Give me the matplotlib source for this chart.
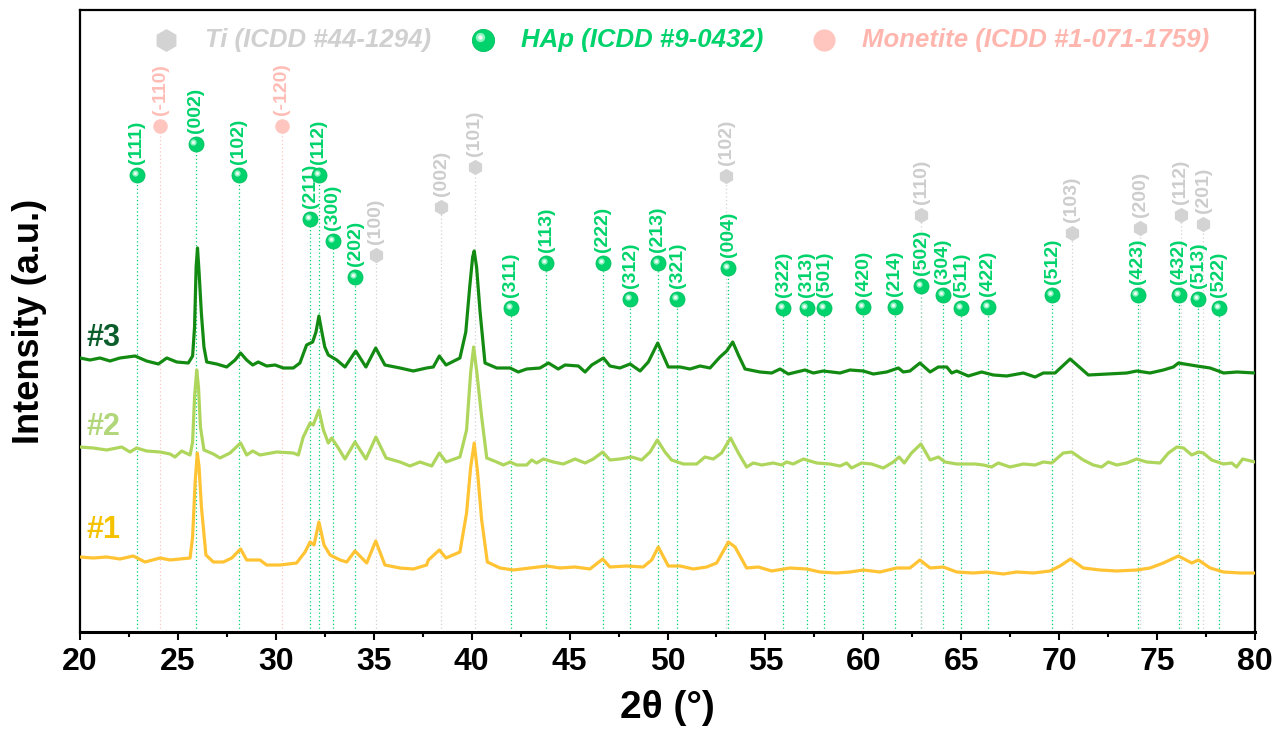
import numpy as np
import matplotlib
matplotlib.use("Agg")
import matplotlib.pyplot as plt
from matplotlib.transforms import offset_copy

plt.rcParams["font.family"] = ["Liberation Sans", "DejaVu Sans"]
plt.rcParams["font.weight"] = "bold"

# ── XRD patterns (2θ, intensity a.u., already offset) ─────────────────────
tt3 = [20.0, 20.51, 21.02, 21.53, 22.04, 22.81, 23.4, 24.0, 24.43, 24.94, 25.53, 25.75,
       25.85, 25.93, 26.0, 26.08, 26.2, 26.33, 26.47, 26.98, 27.49, 27.92, 28.2, 28.51,
       28.82, 29.1, 29.53, 29.96, 30.38, 30.89, 31.23, 31.57, 31.88, 32.05, 32.2, 32.35,
       32.5, 32.68, 33.11, 33.53, 34.08, 34.6, 35.1, 35.57, 36.34, 37.02, 37.7, 38.04,
       38.35, 38.69, 39.4, 39.7, 39.9, 40.05, 40.13, 40.25, 40.43, 40.68, 41.28, 41.96,
       42.38, 42.81, 43.49, 43.92, 44.42, 44.77, 45.45, 45.79, 46.13, 46.73, 47.06, 47.57,
       48.09, 48.6, 49.02, 49.5, 50.04, 50.64, 51.15, 51.66, 52.17, 52.68, 53.02, 53.33,
       53.62, 53.96, 54.72, 55.32, 55.75, 56.17, 57.02, 57.45, 57.95, 58.81, 59.32, 60.0,
       60.51, 61.19, 61.79, 62.04, 62.38, 62.89, 63.41, 63.83, 64.26, 64.51, 64.77, 65.36,
       66.04, 66.64, 67.32, 68.17, 68.77, 69.19, 69.79, 70.56, 71.49, 72.43, 73.45, 73.96,
       74.64, 75.32, 75.83, 76.09, 77.03, 77.71, 78.4, 79.08, 80.0]
i3 = [274, 272, 274, 271, 274, 276, 271, 268, 274, 270, 269, 276,
      305, 365, 384, 360, 318, 285, 270, 268, 265, 272, 279, 272,
      267, 270, 266, 267, 264, 264, 269, 287, 290, 300, 316, 300,
      285, 277, 272, 265, 281, 265, 284, 267, 264, 261, 264, 265,
      276, 267, 274, 300, 345, 375, 381, 365, 320, 269, 264, 264,
      260, 263, 264, 269, 263, 267, 266, 260, 267, 274, 266, 264,
      268, 261, 270, 289, 265, 265, 263, 266, 264, 275, 281, 290,
      277, 263, 260, 259, 263, 258, 262, 259, 261, 259, 262, 261,
      258, 260, 264, 260, 261, 269, 260, 265, 265, 259, 261, 256,
      260, 257, 256, 259, 255, 259, 259, 273, 257, 258, 259, 261,
      259, 262, 265, 269, 266, 264, 259, 260, 259]

tt2 = [20.0, 20.68, 21.36, 22.13, 22.55, 22.89, 23.4, 24.09, 24.6, 24.85, 25.19, 25.62,
       25.75, 25.85, 25.96, 26.05, 26.15, 26.33, 26.81, 27.15, 27.66, 28.2, 28.51, 28.82,
       29.19, 30.04, 30.89, 31.15, 31.4, 31.75, 31.91, 32.2, 32.43, 32.68, 32.85, 33.19,
       33.53, 34.04, 34.6, 35.11, 35.63, 36.34, 36.85, 37.36, 37.96, 38.35, 38.69, 39.4,
       39.74, 39.95, 40.1, 40.25, 40.51, 40.77, 41.28, 41.62, 41.96, 42.3, 42.81, 43.06,
       43.32, 43.66, 44.17, 44.68, 45.28, 45.79, 46.21, 46.69, 47.06, 47.57, 48.17, 48.68,
       49.11, 49.48, 49.87, 50.21, 50.81, 51.49, 51.91, 52.34, 52.76, 53.22, 53.62, 54.04,
       54.38, 54.81, 55.4, 55.83, 56.08, 56.42, 56.94, 57.62, 58.3, 58.81, 59.15, 59.4,
       59.91, 60.42, 61.02, 61.53, 61.83, 62.09, 62.46, 62.94, 63.41, 63.83, 64.17, 64.77,
       65.28, 65.7, 66.13, 66.55, 66.89, 67.49, 68.17, 68.77, 69.19, 69.62, 70.21, 70.64,
       71.23, 71.74, 72.17, 72.51, 72.94, 73.45, 73.96, 74.47, 75.15, 75.58, 76.01, 76.35,
       76.77, 77.11, 77.36, 77.79, 78.38, 78.81, 79.06, 79.37, 80.0]
i2 = [185, 184, 182, 185, 180, 184, 181, 180, 178, 175, 181, 177,
      190, 235, 262, 245, 205, 182, 178, 174, 179, 189, 177, 181,
      177, 180, 179, 177, 195, 209, 207, 222, 202, 189, 194, 184,
      173, 190, 173, 195, 174, 170, 166, 170, 166, 179, 170, 175,
      202, 260, 285, 262, 215, 174, 170, 167, 170, 167, 167, 172,
      169, 173, 170, 168, 173, 169, 173, 180, 172, 173, 175, 172,
      180, 192, 180, 172, 168, 168, 175, 173, 179, 194, 179, 165,
      169, 167, 169, 167, 170, 168, 173, 169, 168, 166, 169, 164,
      169, 168, 164, 170, 175, 169, 179, 188, 172, 175, 170, 168,
      168, 168, 167, 165, 169, 165, 168, 167, 170, 169, 179, 180,
      172, 167, 165, 170, 167, 169, 173, 170, 169, 179, 185, 184,
      177, 180, 179, 172, 168, 169, 165, 173, 170]

tt1 = [20.0, 20.68, 21.36, 22.04, 22.72, 23.32, 24.09, 24.6, 25.11, 25.62, 25.75, 25.88,
       25.99, 26.08, 26.2, 26.43, 26.81, 27.32, 27.75, 28.2, 28.51, 29.19, 29.53, 30.21,
       31.06, 31.49, 31.75, 31.95, 32.2, 32.46, 32.77, 33.28, 33.62, 34.04, 34.64, 35.1,
       35.57, 36.34, 37.02, 37.7, 37.79, 38.35, 38.69, 39.4, 39.74, 39.95, 40.13, 40.3,
       40.51, 40.8, 41.45, 42.13, 42.98, 43.83, 44.51, 45.28, 46.04, 46.69, 47.06, 47.91,
       48.76, 49.19, 49.53, 50.04, 50.64, 51.32, 52.0, 52.51, 53.11, 53.45, 54.04, 54.64,
       55.32, 56.26, 57.11, 57.79, 58.64, 59.32, 60.0, 60.85, 61.7, 62.38, 62.89, 63.41,
       64.08, 64.77, 65.62, 66.3, 67.15, 67.83, 68.68, 69.53, 70.04, 70.58, 71.23, 72.09,
       72.94, 73.96, 74.64, 75.32, 76.09, 76.77, 77.11, 77.71, 78.4, 79.25, 80.0]
i1 = [75, 74, 75, 73, 76, 70, 74, 72, 73, 74, 95, 150,
      179, 165, 125, 77, 70, 70, 74, 83, 72, 72, 67, 67,
      69, 80, 90, 87, 110, 87, 77, 72, 70, 81, 69, 91,
      67, 64, 63, 67, 72, 82, 74, 80, 119, 165, 189, 160,
      112, 70, 64, 62, 64, 66, 64, 65, 63, 73, 65, 66,
      65, 72, 85, 66, 66, 63, 65, 69, 90, 85, 64, 65,
      61, 64, 63, 60, 59, 60, 62, 60, 64, 64, 72, 64,
      65, 60, 59, 60, 58, 60, 59, 61, 66, 73, 64, 62,
      61, 62, 64, 69, 76, 69, 72, 64, 60, 59, 59]

# ── Reference reflections ──────────────────────────────────────────────────
hap_pos = [22.9, 25.9, 28.1, 31.75, 32.2, 32.9, 34.05, 42.0, 43.8, 46.7, 48.1, 49.5,
           50.5, 53.1, 55.9, 57.1, 58.0, 60.0, 61.6, 62.95, 64.05, 65.0, 66.35, 69.65,
           74.0, 76.1, 77.1, 78.15]
hap_top = [457, 488, 457, 413, 457, 391, 355, 324, 369, 369, 333, 369,
           333, 364, 324, 324, 324, 325, 325, 346, 337, 324, 325, 337,
           337, 337, 333, 324]
hap_hkl = ["(111)", "(002)", "(102)", "(211)", "(112)", "(300)", "(202)", "(311)", "(113)",
           "(222)", "(312)", "(213)", "(321)", "(004)", "(322)", "(313)", "(501)", "(420)",
           "(214)", "(502)", "(304)", "(511)", "(422)", "(512)", "(423)", "(432)", "(513)",
           "(522)"]

ti_pos = [35.1, 38.45, 40.15, 53.0, 62.95, 70.65, 74.15, 76.2, 77.35]
ti_top = [377, 425, 465, 456, 417, 399, 404, 417, 408]
ti_hkl = ["(100)", "(002)", "(101)", "(102)", "(110)", "(103)", "(200)", "(112)", "(201)"]

mon_pos = [24.1, 30.3]
mon_top = [506, 506]
mon_hkl = ["(-110)", "(-120)"]

C3, C2, C1 = "#138B13", "#AED65C", "#FFC333"
T3, T2, T1 = "#0B5E2C", "#B2D77A", "#F5C200"
HAP = "#00D36B"
TI = "#D3D3D3"
MON = "#FFC6C0"

fig = plt.figure(figsize=(12.8, 7.34), dpi=100)
ax = fig.add_axes([80 / 1280, 102 / 734, 1175 / 1280, 622 / 734])

# drop lines first so the patterns sit on top
ax.vlines(hap_pos, 0, hap_top, colors=HAP, linestyles=(0, (1, 2)), linewidth=0.9, zorder=1)
ax.vlines(ti_pos, 0, ti_top, colors=TI, linestyles=(0, (1, 2)), linewidth=0.9, zorder=1)
ax.vlines(mon_pos, 0, mon_top, colors=MON, linestyles=(0, (1, 2)), linewidth=0.9, zorder=1)

ax.plot(tt3, i3, color=C3, lw=2.3, zorder=3)
ax.plot(tt2, i2, color=C2, lw=2.3, zorder=3)
ax.plot(tt1, i1, color=C1, lw=2.3, zorder=3)

ax.text(20.35, 294, "#3", color=T3, fontsize=22, fontweight="bold", va="center")
ax.text(20.35, 205, "#2", color=T2, fontsize=22, fontweight="bold", va="center")
ax.text(20.35, 102, "#1", color=T1, fontsize=22, fontweight="bold", va="center")


def sphere(xs, ys, ms, transform):
    # green ball with a small glossy highlight up-left
    ax.plot(xs, ys, "o", ms=ms, color=HAP, mec="#00C060", mew=0.6,
            transform=transform, zorder=5, clip_on=False)
    hl = offset_copy(transform, fig=fig, x=-ms * 0.14, y=ms * 0.14, units="points")
    ax.plot(xs, ys, "o", ms=ms * 0.42, color="#8FF2C0", mew=0,
            transform=hl, zorder=6, clip_on=False)
    ax.plot(xs, ys, "o", ms=ms * 0.2, color="#F2FFF8", mew=0,
            transform=hl, zorder=7, clip_on=False)


sphere(hap_pos, hap_top, 10.8, ax.transData)
ax.plot(ti_pos, ti_top, "h", ms=11, color=TI, mew=0, zorder=5)
ax.plot(mon_pos, mon_top, "o", ms=10.5, color=MON, mew=0, zorder=5)

for x, y, s in zip(hap_pos, hap_top, hap_hkl):
    ax.annotate(s, (x, y), xytext=(0, 8), textcoords="offset points", rotation=90,
                ha="center", va="bottom", fontsize=14, fontweight="bold", color=HAP)
for x, y, s in zip(ti_pos, ti_top, ti_hkl):
    ax.annotate(s, (x, y), xytext=(0, 8), textcoords="offset points", rotation=90,
                ha="center", va="bottom", fontsize=14, fontweight="bold", color="#CDCDCD")
for x, y, s in zip(mon_pos, mon_top, mon_hkl):
    ax.annotate(s, (x, y), xytext=(0, 8), textcoords="offset points", rotation=90,
                ha="center", va="bottom", fontsize=14, fontweight="bold", color="#FFBDB6")

# legend row along the top, drawn by hand
ly = 0.952
ax.plot([0.0732], [ly], "h", ms=16.5, color=TI, mew=0, transform=ax.transAxes, clip_on=False)
ax.text(0.1064, ly, "Ti (ICDD #44-1294)", transform=ax.transAxes, va="center",
        fontsize=18.5, fontweight="bold", style="italic", color="#D0D0D0")
sphere([0.343], [ly], 16, ax.transAxes)
ax.text(0.3753, ly, "HAp (ICDD #9-0432)", transform=ax.transAxes, va="center",
        fontsize=18.5, fontweight="bold", style="italic", color=HAP)
ax.plot([0.633], [ly], "o", ms=16, color=MON, mew=0, transform=ax.transAxes, clip_on=False)
ax.text(0.6655, ly, "Monetite (ICDD #1-071-1759)", transform=ax.transAxes, va="center",
        fontsize=18.5, fontweight="bold", style="italic", color="#FFB6AE")

ax.set_xlim(20, 80)
ax.set_ylim(0, 622)
ax.set_xticks(np.arange(20, 81, 5))
ax.set_xticks(np.arange(22.5, 80, 5), minor=True)
ax.set_yticks([])
ax.tick_params(axis="x", which="major", direction="out", length=6, width=1.5,
               labelsize=23, pad=5)
ax.tick_params(axis="x", which="minor", direction="out", length=3.5, width=1.5)
for sp in ax.spines.values():
    sp.set_linewidth(1.6)
ax.spines["bottom"].set_linewidth(2.2)
for lab in ax.get_xticklabels():
    lab.set_fontweight("bold")

ax.set_xlabel("2θ (°)", fontsize=28, fontweight="bold", labelpad=9)
ax.set_ylabel("Intensity (a.u.)", fontsize=26, fontweight="bold", labelpad=24)

plt.savefig("out.png", dpi=100)
plt.close()
